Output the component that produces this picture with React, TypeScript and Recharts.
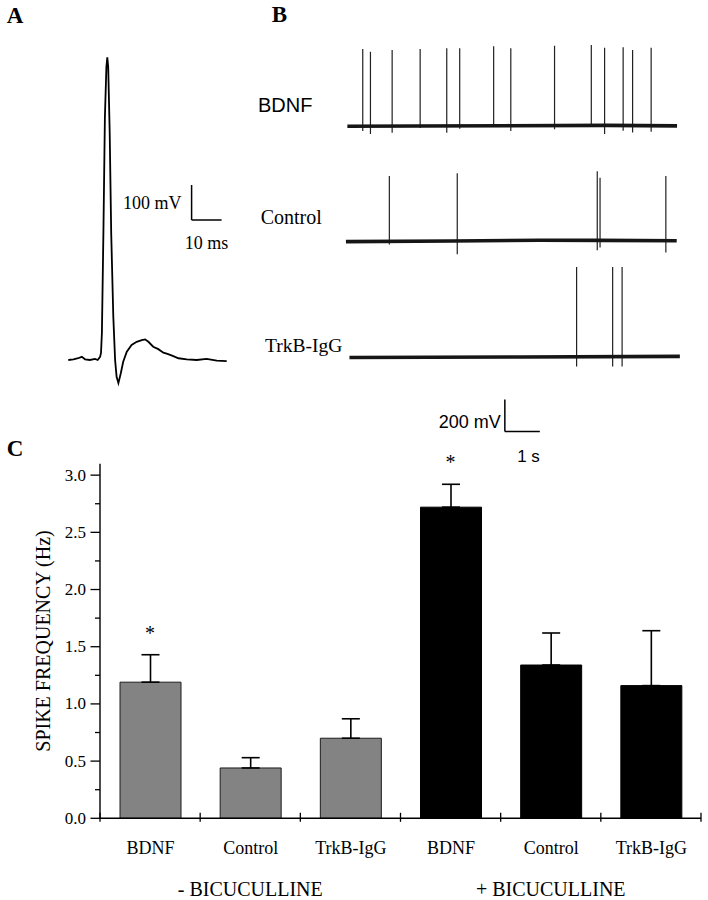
import React from 'react';
import {
  LineChart, Line, XAxis, YAxis, ReferenceLine, ComposedChart, Bar, Cell,
  ErrorBar, LabelList, Scatter,
} from 'recharts';

const SERIF = 'Liberation Serif';
const SANS = 'Liberation Sans';
const serif = (size: number, bold = false): React.CSSProperties => ({ fontFamily: SERIF, fontSize: size, fontWeight: bold ? 700 : 400 });
const sans = (size: number): React.CSSProperties => ({ fontFamily: SANS, fontSize: size });

// ---------- Panel A: single action potential (time in ms, voltage in mV) ----------
const apTime = [0.1, 1.8, 3.4, 4.6, 5.7, 7.3, 9.0, 9.9, 10.7, 11.0, 11.3, 11.8, 12.3, 12.8, 13.1, 13.4, 13.9, 14.4, 15.1, 15.7, 16.2, 16.8, 17.6, 18.4, 19.6, 21.2, 22.9, 24.6, 25.7, 26.8, 28.4, 30.1, 31.8, 33.4, 35.1, 36.8, 39.6, 42.9, 46.2, 49.6, 52.9];
const apVolt = [0, 2, 5, 9, 2, 0, 3, 0, 9, 20, 77, 363, 694, 838, 865, 838, 649, 363, 124, 0, -48, -66, -38, -5, 24, 43, 52, 57, 59, 52, 38, 31, 21, 17, 11, 5, 2, 0, 3, -2, -3];
const scaleA = { t: 41.2, v: 400, dt: 10, dv: 100, tLabel: '10 ms', vLabel: '100 mV' };

// ---------- Panel B: spike trains (time in s, voltage in mV) ----------
const bdnfSpikeTimes = [0.45, 0.67, 1.29, 2.09, 2.85, 3.22, 4.19, 4.68, 5.93, 6.98, 7.36, 7.89, 8.16, 8.69];
const bdnfSpikeTops = [481, 464, 475, 481, 486, 486, 498, 486, 502, 506, 489, 492, 475, 489];
const bdnfSpikeBottoms = [-31, -50, -42, -12, -42, -17, -4, -31, -21, -4, -50, -29, -40, -36];
const bdnfBaseTimes = [0.01, 2, 4.56, 7.42, 9.43];
const bdnfBaseVolts = [-2, 0, 2, 4, 1];

const ctrlSpikeTimes = [1.21, 3.15, 7.15, 7.23, 9.11];
const ctrlSpikeTops = [406, 423, 436, 396, 406];
const ctrlSpikeBottoms = [-22, -83, -58, -41, -72];
const ctrlBaseTimes = [-0.03, 3, 5.5, 7.2, 9.42];
const ctrlBaseVolts = [-4, 0, 5, 4, 2];

const trkSpikeTimes = [6.56, 7.59, 7.86];
const trkSpikeTops = [562, 562, 562];
const trkSpikeBottoms = [-59, -59, -59];
const trkBaseTimes = [0.07, 5, 9.51];
const trkBaseVolts = [-3, 0, 4];

const scaleB = { t: 4.51, v: -465, dt: 1, dv: 200, tLabel: '1 s', vLabel: '200 mV' };

// ---------- Panel C: spike frequency bars ----------
const categories = ['BDNF', 'Control', 'TrkB-IgG', 'BDNF', 'Control', 'TrkB-IgG'];
const means = [1.19, 0.44, 0.70, 2.72, 1.34, 1.16];
const sems = [0.24, 0.09, 0.17, 0.20, 0.28, 0.48];
const groupOf = [0, 0, 0, 1, 1, 1];
const significant = [true, false, false, true, false, false];
const groupLabels = ['- BICUCULLINE', '+ BICUCULLINE'];
const yTicks = [0, 0.25, 0.5, 0.75, 1.0, 1.25, 1.5, 1.75, 2.0, 2.25, 2.5, 2.75, 3.0];

const GRAY = '#838383';

const apRows = apTime.map((t, i) => ({ t, v: apVolt[i] }));

const toBase = (ts: number[], vs: number[]) => ts.map((t, i) => ({ t, v: vs[i] }));
const toSpikes = (ts: number[], tops: number[], bots: number[]) =>
  ts.flatMap((t, i) => [{ t, v: 0 }, { t, v: tops[i] }, { t, v: bots[i] }, { t, v: 0 }]);

const barRows = categories.map((name, i) => ({
  pos: i + 0.5,
  name,
  mean: means[i],
  err: [0, sems[i]],
  group: groupOf[i],
}));
const boundaryTicks = [0, ...categories.map((_, i) => i + 1)];
const groupCenters = groupLabels.map((_, g) => {
  const idx = groupOf.map((gg, i) => (gg === g ? i + 0.5 : null)).filter((v) => v !== null) as number[];
  return idx.reduce((a, b) => a + b, 0) / idx.length;
});
const starRows = barRows
  .filter((_, i) => significant[i])
  .map((r) => ({ pos: r.pos, y: r.mean + r.err[1] }));

// ---------- renderers ----------
const YTick = (props: any) => {
  const { x, y, payload } = props;
  const v = payload.value as number;
  const major = Math.abs(v * 2 - Math.round(v * 2)) < 1e-6;
  return (
    <g>
      <line x1={x - (major ? 9.5 : 5)} x2={x} y1={y} y2={y} stroke="#000" strokeWidth={1.3} />
      {major && (
        <text x={x - 14} y={y} textAnchor="end" dominantBaseline="central" style={serif(17)} fill="#000">
          {v.toFixed(1)}
        </text>
      )}
    </g>
  );
};

const XTickMark = (props: any) => {
  const { x, y } = props;
  return <line x1={x} x2={x} y1={y - 5.5} y2={y + 3.5} stroke="#000" strokeWidth={1.3} />;
};

const GroupTick = (props: any) => {
  const { x, y, payload } = props;
  const label = groupLabels[groupCenters.indexOf(payload.value)] ?? '';
  return (
    <text x={x} y={y + 28} textAnchor="middle" style={serif(20)} fill="#000">{label}</text>
  );
};

const CatLabel = (props: any) => {
  const { x, y, width, height, value } = props;
  return (
    <text x={x + width / 2} y={y + height + 36} textAnchor="middle" style={serif(18)} fill="#000">{value}</text>
  );
};

const YLabel = (props: any) => {
  const vb = props.viewBox;
  const cx = vb.x + 43;
  const cy = vb.y + vb.height / 2;
  return (
    <text x={cx} y={cy} transform={`rotate(-90, ${cx}, ${cy})`} textAnchor="middle" dominantBaseline="central" style={serif(20)} fill="#000">
      SPIKE FREQUENCY (Hz)
    </text>
  );
};

const Star = (props: any) => (
  <text x={props.cx} y={props.cy - 15} textAnchor="middle" style={serif(20)} fill="#000">*</text>
);

type TraceProps = {
  top: number;
  height: number;
  vMin: number;
  base: { t: number; v: number }[];
  spikes: { t: number; v: number }[];
  withScale?: boolean;
};

const TraceChart = ({ top, height, vMin, base, spikes, withScale }: TraceProps) => (
  <div style={{ position: 'absolute', left: 312, top }}>
    <LineChart width={385} height={height} margin={{ top: 0, right: 0, bottom: 0, left: 0 }}>
      <XAxis type="number" dataKey="t" domain={[-1, 10]} hide />
      <YAxis type="number" domain={[vMin, 600]} hide />
      <Line data={spikes} dataKey="v" type="linear" stroke="#222" strokeWidth={1.2} dot={false} isAnimationActive={false} />
      <Line data={base} dataKey="v" type="linear" stroke="#161616" strokeWidth={3.6} dot={false} isAnimationActive={false} />
      {withScale && (
        <ReferenceLine
          segment={[{ x: scaleB.t, y: scaleB.v }, { x: scaleB.t, y: scaleB.v + scaleB.dv }]}
          stroke="#000"
          strokeWidth={1.5}
          label={(p: any) => (
            <text x={p.viewBox.x - 4} y={p.viewBox.y + p.viewBox.height - 3.4} textAnchor="end" style={sans(18)} fill="#000">
              {scaleB.vLabel}
            </text>
          )}
        />
      )}
      {withScale && (
        <ReferenceLine
          segment={[{ x: scaleB.t, y: scaleB.v }, { x: scaleB.t + scaleB.dt, y: scaleB.v }]}
          stroke="#000"
          strokeWidth={1.5}
          label={(p: any) => (
            <text x={p.viewBox.x + 12.3} y={p.viewBox.y + 31} textAnchor="start" style={sans(17)} fill="#000">
              {scaleB.tLabel}
            </text>
          )}
        />
      )}
    </LineChart>
  </div>
);

export default function App() {
  return (
    <div style={{ position: 'absolute', left: 0, top: 0, width: 708, height: 900, background: '#fff', overflow: 'hidden' }}>
      {/* Panel A */}
      <div style={{ position: 'absolute', left: 53, top: 45 }}>
        <LineChart width={180} height={350} data={apRows} margin={{ top: 0, right: 0, bottom: 0, left: 0 }}>
          <XAxis type="number" dataKey="t" domain={[-5, 55]} hide />
          <YAxis type="number" domain={[-100, 900]} hide />
          <Line dataKey="v" type="linear" stroke="#000" strokeWidth={1.8} dot={false} isAnimationActive={false} />
          <ReferenceLine
            segment={[{ x: scaleA.t, y: scaleA.v }, { x: scaleA.t, y: scaleA.v + scaleA.dv }]}
            stroke="#000"
            strokeWidth={1.5}
            label={(p: any) => (
              <text x={p.viewBox.x - 10} y={p.viewBox.y + p.viewBox.height / 2} textAnchor="end" dominantBaseline="central" style={serif(18)} fill="#000">
                {scaleA.vLabel}
              </text>
            )}
          />
          <ReferenceLine
            segment={[{ x: scaleA.t, y: scaleA.v }, { x: scaleA.t + scaleA.dt, y: scaleA.v }]}
            stroke="#000"
            strokeWidth={1.5}
            label={(p: any) => (
              <text x={p.viewBox.x + p.viewBox.width / 2} y={p.viewBox.y + 29} textAnchor="middle" style={serif(18)} fill="#000">
                {scaleA.tLabel}
              </text>
            )}
          />
        </LineChart>
      </div>

      {/* Panel B */}
      <TraceChart top={30} height={176} vMin={-500} base={toBase(bdnfBaseTimes, bdnfBaseVolts)} spikes={toSpikes(bdnfSpikeTimes, bdnfSpikeTops, bdnfSpikeBottoms)} />
      <TraceChart top={144.7} height={176} vMin={-500} base={toBase(ctrlBaseTimes, ctrlBaseVolts)} spikes={toSpikes(ctrlSpikeTimes, ctrlSpikeTops, ctrlSpikeBottoms)} />
      <TraceChart top={261.3} height={224} vMin={-800} base={toBase(trkBaseTimes, trkBaseVolts)} spikes={toSpikes(trkSpikeTimes, trkSpikeTops, trkSpikeBottoms)} withScale />

      {/* Panel C */}
      <div style={{ position: 'absolute', left: 0, top: 440 }}>
        <ComposedChart width={708} height={460} data={barRows} margin={{ top: 23.7, right: 7, bottom: 0, left: 0 }}>
          <XAxis
            xAxisId="a"
            type="number"
            dataKey="pos"
            domain={[0, categories.length]}
            ticks={boundaryTicks}
            interval={0}
            tickSize={0}
            tickMargin={0}
            tickLine={false}
            axisLine={{ stroke: '#000', strokeWidth: 1.4 }}
            tick={XTickMark}
            height={50}
          />
          <XAxis
            xAxisId="b"
            type="number"
            dataKey="pos"
            domain={[0, categories.length]}
            ticks={groupCenters}
            interval={0}
            tickSize={0}
            tickMargin={0}
            tickLine={false}
            axisLine={false}
            tick={GroupTick}
            height={31.7}
          />
          <YAxis
            yAxisId="v"
            type="number"
            dataKey="y"
            domain={[0, 3.1]}
            ticks={yTicks}
            interval={0}
            tickSize={0}
            tickMargin={0}
            tickLine={false}
            axisLine={{ stroke: '#000', strokeWidth: 1.4 }}
            tick={YTick}
            width={100}
            label={YLabel}
          />
          <Bar xAxisId="a" yAxisId="v" dataKey="mean" barSize={61} isAnimationActive={false}>
            {barRows.map((r, i) => (
              <Cell key={i} fill={r.group === 0 ? GRAY : '#000'} stroke={r.group === 0 ? '#1c1c1c' : '#000'} strokeWidth={1} />
            ))}
            <ErrorBar dataKey="err" direction="y" width={9} stroke="#000" strokeWidth={1.6} />
            <LabelList dataKey="name" content={CatLabel} />
          </Bar>
          <Scatter xAxisId="b" yAxisId="v" data={starRows} dataKey="y" shape={Star} isAnimationActive={false} />
        </ComposedChart>
      </div>

      {/* Panel letters and trace names */}
      <svg width={708} height={900} style={{ position: 'absolute', left: 0, top: 0, pointerEvents: 'none' }}>
        <text x={6.7} y={23.3} style={serif(23, true)} fill="#000">A</text>
        <text x={271.7} y={21.7} style={serif(23, true)} fill="#000">B</text>
        <text x={6.7} y={456} style={serif(23, true)} fill="#000">C</text>
        <text x={258} y={112} style={sans(20)} fill="#000">BDNF</text>
        <text x={260.7} y={223.5} style={serif(20)} fill="#000">Control</text>
        <text x={265} y={352} style={serif(19.5)} fill="#000">TrkB-IgG</text>
      </svg>
    </div>
  );
}
